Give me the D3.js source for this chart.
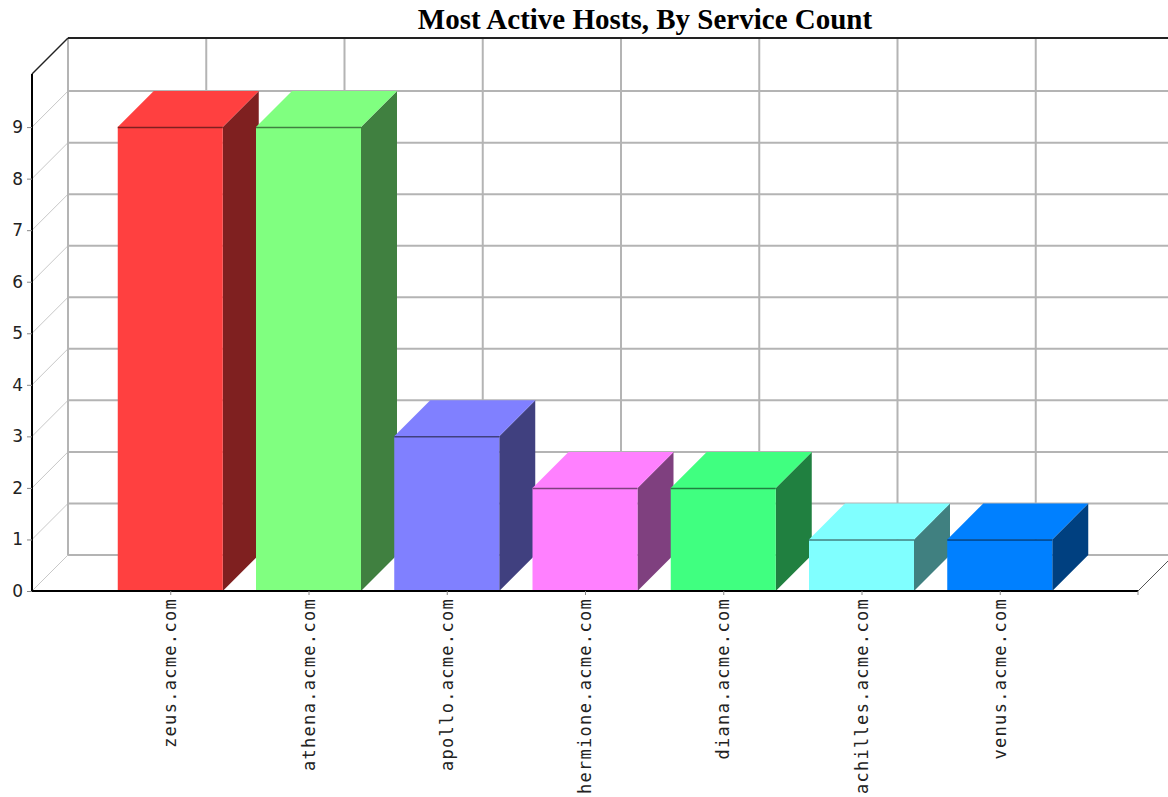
<!DOCTYPE html>
<html>
<head>
<meta charset="utf-8">
<script src="https://cdn.jsdelivr.net/npm/d3@7"></script>
<style>
  html, body { margin: 0; padding: 0; background: #fff; }
  svg { display: block; }
</style>
</head>
<body>
<svg id="chart" width="1168" height="797"></svg>
<script>
// Service counts per host
const hosts = ["zeus.acme.com", "athena.acme.com", "apollo.acme.com", "hermione.acme.com",
               "diana.acme.com", "achilles.acme.com", "venus.acme.com"];
const serviceCounts = [9, 9, 3, 2, 2, 1, 1];
const frontColors = ["#ff4040", "#80ff80", "#8080ff", "#ff80ff", "#40ff80", "#80ffff", "#0080ff"];
const sideColors  = ["#7f2020", "#408040", "#40407f", "#7f407f", "#208040", "#408080", "#004080"];
const yTicks = [0, 1, 2, 3, 4, 5, 6, 7, 8, 9];
const axisMax = 10.03;
const title = "Most Active Hosts, By Service Count";

(function () {
const svg = d3.select("#chart");

// plot geometry (front plane) and 3D depth offset
const plotLeft = 32, plotRight = 1138, plotBase = 591, plotTop = 74;
const DX = 36, DY = 36;
const barWidth = 105;

const x = d3.scalePoint().domain(hosts).range([plotLeft, plotRight]).padding(1);
const y = d3.scaleLinear().domain([0, axisMax]).range([plotBase, plotTop]);

// title
svg.append("text")
  .attr("x", 645).attr("y", 29)
  .attr("text-anchor", "middle")
  .attr("font-family", "'Liberation Serif', 'Times New Roman', serif")
  .attr("font-weight", "bold")
  .attr("font-size", 29)
  .text(title);

const wall = svg.append("g");
const gridColor = "#b4b4b4";

// back wall horizontal grid lines
wall.selectAll("line.hgrid").data(yTicks.filter(d => d > 0)).join("line")
  .attr("x1", plotLeft + DX).attr("x2", 1168 + DX)
  .attr("y1", d => y(d) - DY).attr("y2", d => y(d) - DY)
  .attr("stroke", gridColor).attr("stroke-width", 2);

// back wall vertical grid lines at category positions
wall.selectAll("line.vgrid").data(hosts).join("line")
  .attr("x1", d => x(d) + DX).attr("x2", d => x(d) + DX)
  .attr("y1", y(axisMax) - DY).attr("y2", plotBase - DY)
  .attr("stroke", gridColor).attr("stroke-width", 2);

// diagonal lines from the front axis ticks to the back wall
wall.selectAll("line.diag").data(yTicks.filter(d => d > 0)).join("line")
  .attr("x1", plotLeft).attr("y1", d => y(d))
  .attr("x2", plotLeft + DX).attr("y2", d => y(d) - DY)
  .attr("stroke", "#c8c8c8").attr("stroke-width", 1);

// back wall left edge
wall.append("line")
  .attr("x1", plotLeft + DX).attr("x2", plotLeft + DX)
  .attr("y1", y(axisMax) - DY).attr("y2", plotBase - DY)
  .attr("stroke", gridColor).attr("stroke-width", 2);

// floor edges
wall.append("line")
  .attr("x1", plotLeft + DX).attr("x2", 1168 + DX)
  .attr("y1", plotBase - DY).attr("y2", plotBase - DY)
  .attr("stroke", gridColor).attr("stroke-width", 2);
wall.append("line")
  .attr("x1", plotLeft).attr("y1", plotBase).attr("x2", plotLeft + DX).attr("y2", plotBase - DY)
  .attr("stroke", "#c8c8c8").attr("stroke-width", 1);
wall.append("line")
  .attr("x1", plotRight).attr("y1", plotBase).attr("x2", plotRight + DX).attr("y2", plotBase - DY)
  .attr("stroke", "#555").attr("stroke-width", 1);

// wall top edge and left axis bevel
wall.append("line")
  .attr("x1", plotLeft + DX).attr("x2", 1168 + DX)
  .attr("y1", y(axisMax) - DY).attr("y2", y(axisMax) - DY)
  .attr("stroke", "#222").attr("stroke-width", 2);
wall.append("line")
  .attr("x1", plotLeft).attr("y1", y(axisMax))
  .attr("x2", plotLeft + DX).attr("y2", y(axisMax) - DY)
  .attr("stroke", "#222").attr("stroke-width", 1.5);

// 3D bars
const data = hosts.map((h, i) => ({ host: h, value: serviceCounts[i], front: frontColors[i], side: sideColors[i] }));
const bars = svg.append("g").selectAll("g").data(data).join("g");

bars.each(function (d) {
  const g = d3.select(this);
  const x0 = x(d.host) - barWidth / 2, x1 = x0 + barWidth;
  const yt = y(d.value), yb = y(0);
  // side face
  g.append("path")
    .attr("d", `M${x1},${yt}L${x1 + DX},${yt - DY}L${x1 + DX},${yb - DY}L${x1},${yb}Z`)
    .attr("fill", d.side);
  // top face
  g.append("path")
    .attr("d", `M${x0},${yt}L${x0 + DX},${yt - DY}L${x1 + DX},${yt - DY}L${x1},${yt}Z`)
    .attr("fill", d.front);
  // front face
  g.append("rect")
    .attr("x", x0).attr("y", yt)
    .attr("width", barWidth).attr("height", yb - yt)
    .attr("fill", d.front);
  // edge between top and front faces
  g.append("line")
    .attr("x1", x0).attr("x2", x1).attr("y1", yt + 0.5).attr("y2", yt + 0.5)
    .attr("stroke", d.side).attr("stroke-width", 1.5);
});

// value axis (front)
const yAxis = d3.axisLeft(y).tickValues(yTicks).tickSize(5).tickPadding(4).tickFormat(d3.format("d"));
const yg = svg.append("g").attr("transform", `translate(${plotLeft},0)`).call(yAxis);
yg.select(".domain").attr("d", `M0,${y(axisMax)}V${plotBase}`).attr("stroke", "#000").attr("stroke-width", 2);
yg.selectAll(".tick line").attr("stroke", "#888");
yg.selectAll(".tick text")
  .attr("font-family", "'DejaVu Sans', sans-serif")
  .attr("font-size", 17).attr("fill", "#222");

// category axis
const xAxis = d3.axisBottom(x).tickSize(4).tickFormat("");
const xg = svg.append("g").attr("transform", `translate(0,${plotBase})`).call(xAxis);
xg.select(".domain").attr("d", `M${plotLeft},0H${plotRight}`).attr("stroke", "#000").attr("stroke-width", 2);
xg.selectAll(".tick line").attr("stroke", "#888");
xg.append("line").attr("x1", plotRight).attr("x2", plotRight).attr("y1", 0).attr("y2", 4).attr("stroke", "#888");

// rotated category labels
svg.append("g").selectAll("text").data(hosts).join("text")
  .attr("transform", d => `translate(${x(d) + 6},598) rotate(-90)`)
  .attr("text-anchor", "end")
  .attr("font-family", "'DejaVu Sans Mono', monospace")
  .attr("font-size", 17)
  .attr("letter-spacing", 1.3)
  .attr("fill", "#222")
  .text(d => d);
})();
</script>
</body>
</html>
